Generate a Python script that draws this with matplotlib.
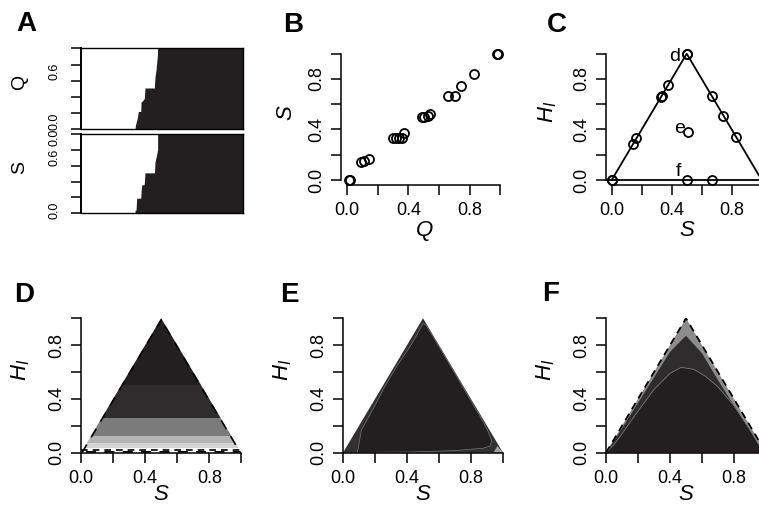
import numpy as np
import matplotlib
matplotlib.use('Agg')
import matplotlib.pyplot as plt
from matplotlib.patches import Polygon

plt.rcParams['font.family'] = ['Liberation Sans', 'DejaVu Sans']
plt.rcParams['mathtext.fontset'] = 'custom'
plt.rcParams['mathtext.it'] = 'Liberation Sans:italic'
plt.rcParams['mathtext.rm'] = 'Liberation Sans'

INK = '#231f20'

# ---- A: edge of the black region (x fraction) at each level
a_q_level = [0.0, 0.05, 0.08, 0.14, 0.22, 0.22, 0.34, 0.34, 0.38, 0.51, 0.51, 0.53, 0.65, 0.73, 0.90, 1.0]
a_q_edge = [0.335, 0.337, 0.341, 0.349, 0.355, 0.370, 0.372, 0.376, 0.392, 0.396, 0.454, 0.454, 0.458, 0.464, 0.472, 0.474]
a_s_level = [0.0, 0.04, 0.04, 0.19, 0.19, 0.27, 0.36, 0.36, 0.38, 0.51, 0.51, 0.53, 0.65, 0.74, 0.80, 1.0]
a_s_edge = [0.335, 0.335, 0.341, 0.345, 0.370, 0.372, 0.376, 0.390, 0.392, 0.396, 0.454, 0.455, 0.458, 0.468, 0.474, 0.474]

# ---- B: Q vs S
b_q = [0.01, 0.02, 0.09, 0.11, 0.14, 0.30, 0.32, 0.34, 0.36, 0.37,
       0.49, 0.50, 0.53, 0.54, 0.655, 0.705, 0.74, 0.83, 0.98, 0.985]
b_s = [0.0, 0.0, 0.145, 0.15, 0.165, 0.33, 0.33, 0.33, 0.335, 0.375,
       0.50, 0.50, 0.51, 0.525, 0.665, 0.665, 0.745, 0.84, 1.0, 1.0]

# ---- C: S vs H_I
c_s = [0.0, 0.005, 0.14, 0.165, 0.33, 0.335, 0.375, 0.5, 0.505, 0.667, 0.745, 0.83, 0.51, 0.5, 0.667]
c_h = [0.0, 0.0, 0.285, 0.33, 0.66, 0.665, 0.75, 1.0, 1.0, 0.665, 0.51, 0.34, 0.38, 0.0, 0.0]
c_tags = ['d', 'e', 'f']
c_tag_s = [0.42, 0.45, 0.445]
c_tag_h = [0.975, 0.41, 0.065]

# ---- D: horizontal bands
d_edges = [0.0, 0.033, 0.07, 0.127, 0.26, 0.504, 1.0]
d_colors = ['#ffffff', '#d4d4d4', '#b4b4b4', '#7b7b7b', '#2e2c2d', INK]

# ---- E: inner black region
e_in_s = [0.09, 0.115, 0.19, 0.26, 0.34, 0.43, 0.50, 0.52, 0.60, 0.70, 0.80, 0.85, 0.90, 0.93, 0.92, 0.875, 0.69, 0.44, 0.20]
e_in_h = [0.0, 0.168, 0.33, 0.49, 0.65, 0.81, 0.96, 0.95, 0.79, 0.59, 0.385, 0.285, 0.175, 0.09, 0.05, 0.033, 0.015, 0.006, 0.003]

# ---- F: dark band and black bell
f_mid_s = [0.0, 0.1, 0.2, 0.3, 0.4, 0.5, 0.6, 0.7, 0.8, 0.9, 0.97, 1.0]
f_mid_h = [0.0, 0.18, 0.37, 0.56, 0.75, 0.87, 0.74, 0.54, 0.35, 0.15, 0.03, 0.0]
f_in_s = [0.0, 0.05, 0.10, 0.20, 0.30, 0.40, 0.47, 0.55, 0.62, 0.70, 0.80, 0.90, 0.95, 1.0]
f_in_h = [0.0, 0.06, 0.14, 0.31, 0.47, 0.59, 0.635, 0.62, 0.57, 0.49, 0.35, 0.17, 0.07, 0.0]

tri_s = [0.0, 0.5, 1.0]
tri_h = [0.0, 1.0, 0.0]

W, H = 759, 514
fig = plt.figure(figsize=(W / 100, H / 100), dpi=100)


def px_axes(x0, x1, y0, y1):
    return fig.add_axes([x0 / W, 1 - y1 / H, (x1 - x0) / W, (y1 - y0) / H])


def ftext(x, y, s, **kw):
    fig.text(x / W, 1 - y / H, s, **kw)


def r_axes(ax, lim):
    ax.set_xlim(*lim)
    ax.set_ylim(*lim)
    for s in ['top', 'right']:
        ax.spines[s].set_visible(False)
    for s in ['left', 'bottom']:
        ax.spines[s].set_bounds(0, 1)
        ax.spines[s].set_linewidth(1.1)
    ticks = [0, 0.2, 0.4, 0.6, 0.8, 1.0]
    labs = ['0.0', '', '0.4', '', '0.8', '']
    ax.set_xticks(ticks)
    ax.set_xticklabels(labs)
    ax.set_yticks(ticks)
    ax.set_yticklabels(labs, rotation=90, va='center')
    ax.tick_params(direction='out', length=7.2, width=1.1, labelsize=13, colors='black')
    ax.tick_params(axis='x', pad=5)
    ax.tick_params(axis='y', pad=4)
    ax.patch.set_alpha(0)


def tri_patch(ax):
    return Polygon(np.column_stack([tri_s, tri_h]), closed=True, transform=ax.transData)


# ---------------- A
for (y0, y1, lev, edge) in [(48.3, 129.3, a_q_level, a_q_edge), (134.0, 213.3, a_s_level, a_s_edge)]:
    ax = px_axes(80.7, 243, y0, y1)
    ax.fill_betweenx(lev, edge, 1.0, color=INK, lw=0)
    ax.set_xlim(0, 1)
    ax.set_ylim(0, 1)
    ax.set_xticks([])
    ax.set_yticks([0, 0.2, 0.4, 0.6, 0.8, 1.0])
    ax.set_yticklabels([])
    ax.tick_params(axis='y', direction='out', length=7.2, width=1.1)
    for s in ax.spines.values():
        s.set_linewidth(1.0)
    ax.spines['left'].set_linewidth(1.4)

for y, s in [(71, '0.6'), (121, '0.0'), (137, '0.0'), (157, '0.6'), (210, '0.0')]:
    ftext(55, y, s, rotation=90, ha='center', va='center', fontsize=9)
ftext(20, 82, 'Q', rotation=90, ha='center', va='center', fontsize=14)
ftext(20, 167, 'S', rotation=90, ha='center', va='center', fontsize=14)

# ---------------- B
ax = px_axes(340.9, 506.6, 48.65, 185.05)
ax.plot(b_q, b_s, 'o', mfc='none', mec='black', ms=6.5, mew=1.3, clip_on=False)
r_axes(ax, (-0.04, 1.04))
ftext(287, 113, '$S$', rotation=90, ha='center', va='center', fontsize=16)
ftext(424, 231, '$Q$', ha='center', va='center', fontsize=16)

# ---------------- C
ax = px_axes(605.7, 767.7, 48.65, 185.05)
ax.plot(tri_s, tri_h, color='black', lw=1.3)
ax.axhline(0, color='black', lw=1.3)
ax.plot(c_s, c_h, 'o', mfc='none', mec='black', ms=6.5, mew=1.3, clip_on=False)
for t, s, h in zip(c_tags, c_tag_s, c_tag_h):
    ax.text(s, h, t, fontsize=14, ha='center', va='center')
r_axes(ax, (-0.04, 1.04))
ftext(548, 112, '$H_I$', rotation=90, ha='center', va='center', fontsize=16)
ftext(687, 231, '$S$', ha='center', va='center', fontsize=16)

# ---------------- D
ax = px_axes(81, 241.4, 318.3, 452.7)
tp = tri_patch(ax)
for lo, hi, c in zip(d_edges[:-1], d_edges[1:], d_colors):
    band = ax.axhspan(lo, hi, color=c, lw=0)
    band.set_clip_path(tp)
edge, = ax.plot(tri_s + [0.0], [0.0, 1.0, 0.0, 0.0], color='black', lw=2.4, ls=(0, (3, 2.5)))
edge.set_clip_path(tri_patch(ax))
ax.plot([0.0, 1.0], [0.02, 0.02], color='black', lw=1.2, ls=(0, (4, 3)))
r_axes(ax, (0, 1))

# ---------------- E
ax = px_axes(343, 503, 318.3, 452.7)
ax.fill(tri_s, tri_h, color='#323031', lw=0)
ax.fill([0.94, 1.0, 0.965], [0.0, 0.0, 0.05], color='#a0a0a0', lw=0)
ax.fill(e_in_s, e_in_h, facecolor=INK, edgecolor='#777777', lw=0.5)
r_axes(ax, (0, 1))

# ---------------- F
ax = px_axes(606, 766, 318.3, 452.7)
ax.fill(tri_s, tri_h, color='#8c8c8c', lw=0)
ax.fill(f_mid_s, f_mid_h, color='#2e2c2d', lw=0)
ax.fill(f_in_s, f_in_h, facecolor=INK, edgecolor='#7a7a7a', lw=0.6)
ax.plot(tri_s, tri_h, color='black', lw=1.3, ls=(0, (4, 3)))
r_axes(ax, (0, 1))

for x0 in [21, 283, 546]:
    ftext(x0, 370, '$H_I$', rotation=90, ha='center', va='center', fontsize=16)
for xc in [161, 423, 686]:
    ftext(xc, 495, '$S$', ha='center', va='center', fontsize=16)

# panel letters
for x, y, s in [(26, 24, 'A'), (293, 25, 'B'), (557, 25, 'C'),
                (24, 295, 'D'), (289, 295, 'E'), (551, 294, 'F')]:
    ftext(x, y, s, fontsize=20, fontweight='bold', ha='center', va='center')

fig.savefig('out.png', dpi=100)
